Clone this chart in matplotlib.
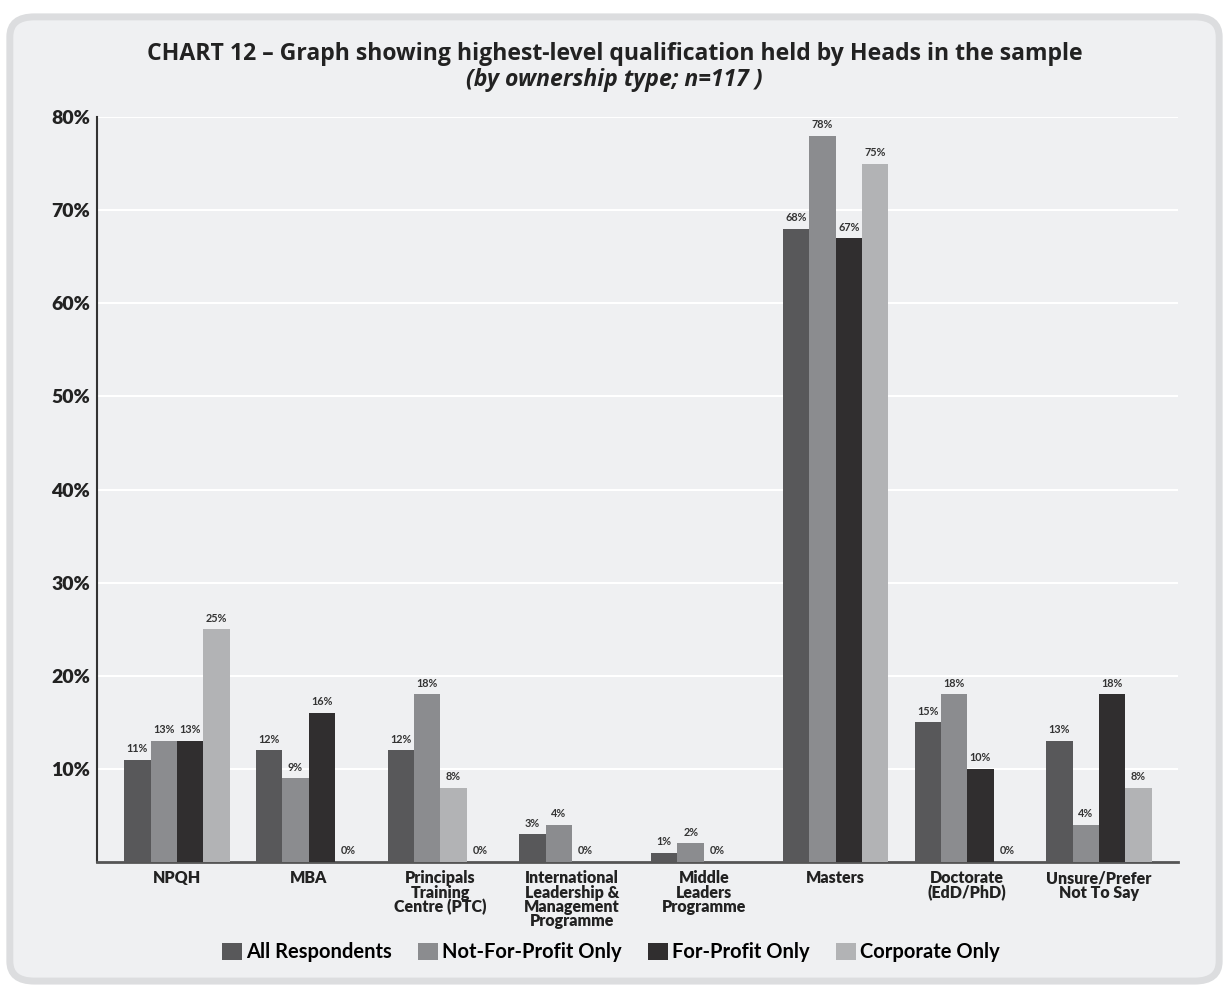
import matplotlib
matplotlib.use('Agg')
import matplotlib.pyplot as plt
import numpy as np
from matplotlib.patches import FancyBboxPatch, Patch

plt.rcParams['font.family'] = ['Lato', 'DejaVu Sans']

# Data
categories = ['NPQH', 'MBA', 'Principals\nTraining\nCentre (PTC)',
              'International\nLeadership &\nManagement\nProgramme',
              'Middle\nLeaders\nProgramme', 'Masters', 'Doctorate\n(EdD/PhD)',
              'Unsure/Prefer\nNot To Say']
series_names = ['All Respondents', 'Not-For-Profit Only', 'For-Profit Only', 'Corporate Only']
all_resp = [11, 12, 12, 3, 1, 68, 15, 13]
not_for_profit = [13, 9, 18, 4, 2, 78, 18, 4]
for_profit = [13, 16, 8, 0, 0, 67, 10, 18]
corporate = [25, 0, 0, None, None, 75, 0, 8]
colors = ['#58585a', '#8b8c8f', '#302e2f', '#b2b3b5']
# in the source the third PTC bar is drawn in the light colour
colour_override = {(2, 2): '#b2b3b5'}
yticks = [10, 20, 30, 40, 50, 60, 70, 80]

series = [all_resp, not_for_profit, for_profit, corporate]

fig = plt.figure(figsize=(12.29, 9.92), dpi=100)
fig.patch.set_facecolor('white')
panel = FancyBboxPatch((0.008, 0.011), 0.984, 0.972,
                       boxstyle='round,pad=0,rounding_size=0.02',
                       transform=fig.transFigure, facecolor='#eff0f2',
                       edgecolor='#dcdddf', linewidth=5, zorder=-10)
fig.patches.append(panel)

ax = fig.add_axes([0.0789, 0.131, 0.8796, 0.751])
ax.set_facecolor('#eff0f2')

x = np.arange(len(categories))
w = 0.2
for i, vals in enumerate(series):
    for j, v in enumerate(vals):
        if v is None:
            continue
        c = colour_override.get((i, j), colors[i])
        xpos = x[j] + (i - 1.5) * w
        ax.bar(xpos, v, width=w, color=c, zorder=3)
        ax.text(xpos, v + 0.6, f'{v}%', ha='center', va='bottom',
                fontsize=7.8, color='#333333', fontweight='bold')

ax.set_xlim(-0.607, 7.60)
ax.set_ylim(0, 80)
ax.set_yticks(yticks)
ax.set_yticklabels([f'{t}%' for t in yticks], fontsize=14, fontweight='heavy', color='#222222')
ax.set_xticks(x)
ax.set_xticklabels(categories, fontsize=11.5, fontweight='heavy', color='#222222',
                   linespacing=0.86)
ax.tick_params(axis='both', length=0)
ax.tick_params(axis='x', pad=6)
ax.tick_params(axis='y', pad=5)
ax.grid(axis='y', color='white', linewidth=1.5, zorder=0)
for s in ['top', 'right']:
    ax.spines[s].set_visible(False)
ax.spines['left'].set_color('#333333')
ax.spines['left'].set_linewidth(1.5)
ax.spines['bottom'].set_color('#555555')
ax.spines['bottom'].set_linewidth(2)

title_font = ['Open Sans', 'DejaVu Sans']
fig.text(0.5, 0.946, 'CHART 12 \u2013 Graph showing highest-level qualification held by Heads in the sample',
         ha='center', va='center', fontsize=16.6, fontweight='bold', color='#222222',
         family=title_font)
fig.text(0.5, 0.919, '(by ownership type; n=117 )', ha='center', va='center',
         fontsize=16.6, fontweight='bold', style='italic', color='#222222',
         family=title_font)

handles = [Patch(facecolor=c) for c in colors]
fig.legend(handles, series_names, loc='center', bbox_to_anchor=(0.497, 0.040), ncol=4,
           frameon=False, handlelength=1.0, handleheight=0.9,
           handletextpad=0.2, columnspacing=1.3,
           prop={'weight': 'bold', 'size': 14.5})

fig.savefig('out.png', dpi=100, facecolor='white')
